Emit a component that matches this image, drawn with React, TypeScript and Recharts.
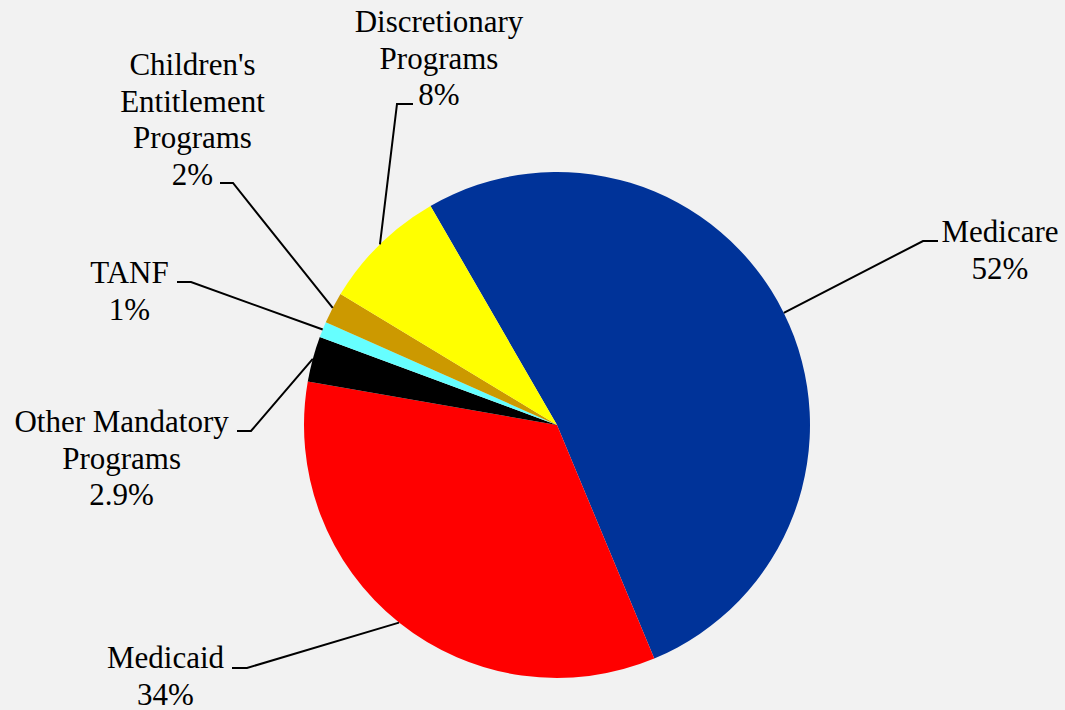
import { PieChart, Pie, Cell } from "recharts";

const categories = [
  "Medicare",
  "Medicaid",
  "Other Mandatory Programs",
  "TANF",
  "Children's Entitlement Programs",
  "Discretionary Programs",
];
const shares = [52, 34, 2.9, 1, 2, 8];
// label text split into lines the way the chart wraps them
const labelLines = [
  ["Medicare"],
  ["Medicaid"],
  ["Other Mandatory", "Programs"],
  ["TANF"],
  ["Children's", "Entitlement", "Programs"],
  ["Discretionary", "Programs"],
];
const COLORS = ["#003399", "#FF0000", "#000000", "#66FFFF", "#CC9900", "#FFFF00"];

// label placement relative to pie centre: elbow, end of horizontal tick, text centre, first baseline
const LABEL_POS = [
  { ex: 366, ey: -184, hx: 381, tx: 443, ty: -183 },
  { ex: -310, ey: 243, hx: -325, tx: -391.5, ty: 243 },
  { ex: -306, ey: 6, hx: -320, tx: -435.4, ty: 7 },
  { ex: -366, ey: -143, hx: -380, tx: -427.5, ty: -142 },
  { ex: -324, ey: -242, hx: -337, tx: -364.5, ty: -350 },
  { ex: -160, ey: -321, hx: -144, tx: -118, ty: -393 },
];

const FONT = "Liberation Serif";
const LINE_H = 36.5;

const data = categories.map((name, i) => ({ name, value: shares[i] }));

const RADIAN = Math.PI / 180;

function renderLabel(props: any) {
  const { cx, cy, midAngle, outerRadius, index } = props;
  const p = LABEL_POS[index];
  const sx = cx + outerRadius * Math.cos(-midAngle * RADIAN);
  const sy = cy + outerRadius * Math.sin(-midAngle * RADIAN);
  const lines = [...labelLines[index], `${shares[index]}%`];
  return (
    <g key={`lbl-${index}`}>
      <polyline
        points={`${sx},${sy} ${cx + p.ex},${cy + p.ey} ${cx + p.hx},${cy + p.ey}`}
        fill="none"
        stroke="#000"
        strokeWidth={2}
      />
      <text
        x={cx + p.tx}
        y={cy + p.ty}
        textAnchor="middle"
        style={{ fontFamily: FONT, fontSize: 31, fill: "#000" }}
      >
        {lines.map((t, k) => (
          <tspan key={k} x={cx + p.tx} y={cy + p.ty + k * LINE_H}>
            {t}
          </tspan>
        ))}
      </text>
    </g>
  );
}

export default function App() {
  return (
    <div
      style={{
        position: "absolute",
        left: 0,
        top: 0,
        width: 1065,
        height: 710,
        background: "#F2F2F2",
        fontFamily: FONT,
      }}
    >
      <PieChart width={1065} height={710} margin={{ top: 0, right: 0, bottom: 0, left: 0 }}>
        <Pie
          data={data}
          dataKey="value"
          nameKey="name"
          cx={557}
          cy={425}
          outerRadius={253}
          startAngle={120}
          endAngle={-240}
          stroke="none"
          label={renderLabel}
          labelLine={false}
          isAnimationActive={false}
        >
          {data.map((_, index) => (
            <Cell key={index} fill={COLORS[index]} />
          ))}
        </Pie>
      </PieChart>
    </div>
  );
}
